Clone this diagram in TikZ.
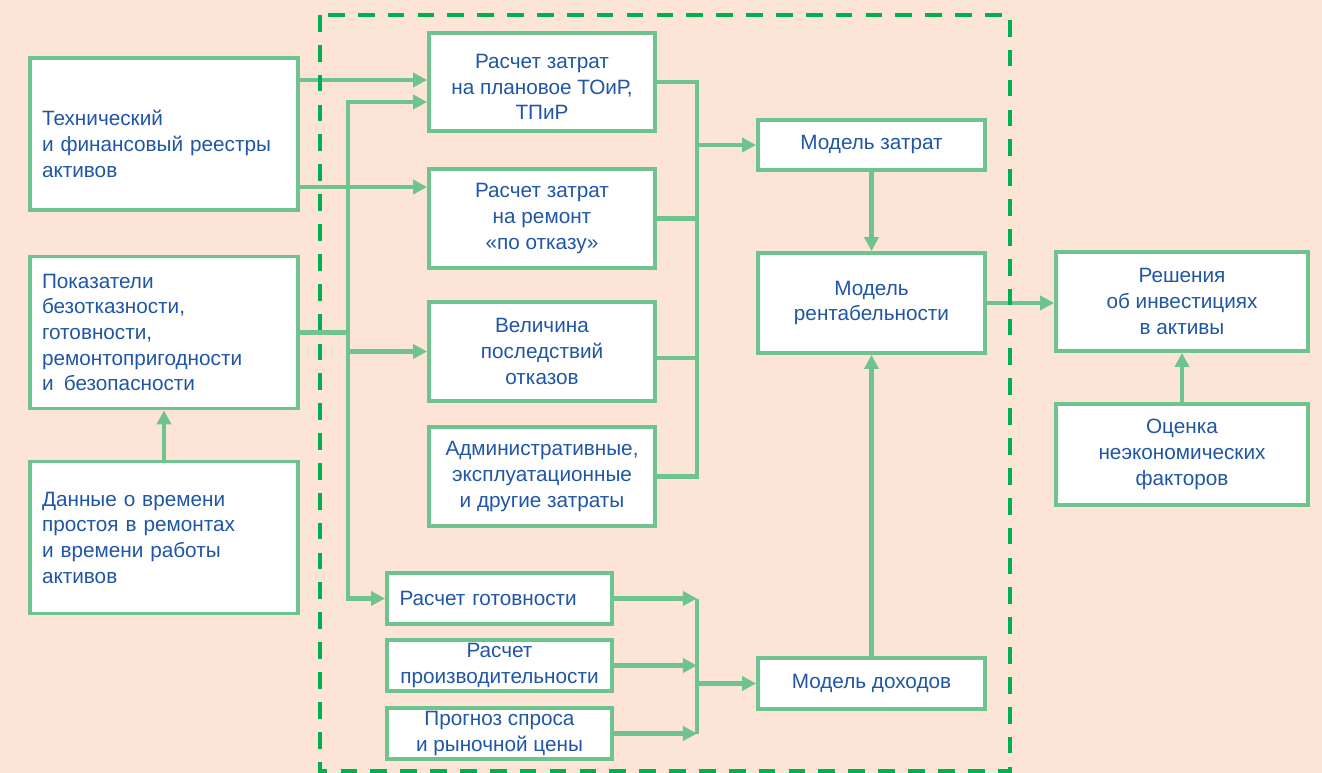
\documentclass[tikz,border=0pt]{standalone}
\usepackage{fontspec}
\setmainfont{Liberation Sans}
\usetikzlibrary{arrows.meta}
\definecolor{bgpeach}{RGB}{252,228,214}
\definecolor{boxgreen}{RGB}{110,195,142}
\definecolor{zonegreen}{RGB}{0,176,80}
\definecolor{txtblue}{RGB}{31,86,166}
\newcommand{\boxfont}{\fontsize{11.8}{14.6}\selectfont}

\begin{document}
\begin{tikzpicture}[
    x=0.02cm, y=-0.02cm,
    box/.style={draw=boxgreen, line width=2.2pt, fill=white, text=txtblue,
                font=\boxfont, align=center, minimum width=#1},
    link/.style={draw=boxgreen, line width=2.8pt},
    arr/.style={link, -{Triangle[length=8pt,width=8pt]}},
    zone/.style={draw=zonegreen, line width=2.3pt, dash pattern=on 9.5pt off 7.5pt},
]
\fill[bgpeach] (0,0) rectangle (1322,773);
\useasboundingbox (0,0) rectangle (1322,773);

% inputs
\node[box=5.36cm, minimum height=3.04cm, align=left, text width=4.88cm] (tech) at (164,134)
    {\rule{0pt}{20pt}Технический\\и финансовый реестры\\активов};
\node[box=5.36cm, minimum height=3.04cm, align=left, text width=4.88cm] (pokaz) at (164,332.5)
    {Показатели\\безотказности,\\готовности,\\ремонтопригодности\\и\, безопасности};
\node[box=5.36cm, minimum height=3.04cm, align=left, text width=4.88cm] (dannye) at (164,537.5)
    {Данные о времени\\простоя в ремонтах\\и времени работы\\активов};

% cost calculations
\node[box=4.52cm, minimum height=1.96cm] (r1) at (542,82) {\rule{0pt}{14pt}Расчет затрат\\на плановое ТОиР,\\ТПиР};
\node[box=4.52cm, minimum height=1.98cm] (r2) at (542,218.5) {Расчет затрат\\на ремонт\\«по отказу»};
\node[box=4.52cm, minimum height=1.98cm] (r3) at (542,351.5) {Величина\\последствий\\отказов};
\node[box=4.52cm, minimum height=1.98cm] (r4) at (542,476.5) {Административные,\\эксплуатационные\\и другие затраты};

% income calculations
\node[box=4.5cm, minimum height=1.02cm, inner ysep=1pt, align=left, text width=4cm] (g1) at (499.5,598.5) {Расчет готовности};
\node[box=4.5cm, minimum height=1.02cm, inner ysep=1pt] (g2) at (499.5,665.5) {Расчет\\производительности};
\node[box=4.5cm, minimum height=1.02cm, inner ysep=1pt] (g3) at (499.5,733.5) {Прогноз спроса\\и рыночной цены};

% models
\node[box=4.54cm, minimum height=1cm] (mz) at (871.5,145) {Модель затрат};
\node[box=4.54cm, minimum height=2cm] (mr) at (871.5,303) {Модель\\рентабельности};
\node[box=4.54cm, minimum height=1.02cm] (md) at (871.5,683.5) {Модель доходов};

% decisions
\node[box=5.04cm, minimum height=1.98cm] (rs) at (1182,301.5) {Решения\\об инвестициях\\в активы};
\node[box=5.04cm, minimum height=2.02cm] (oc) at (1182,454.5) {Оценка\\неэкономических\\факторов};

\coordinate (bus) at (348,0);
\coordinate (col) at (697,0);
\coordinate (r1in) at ([yshift=0.04cm]r1.west);
\coordinate (r1low) at ([yshift=-0.4cm]r1.west);
\coordinate (r2in) at ([yshift=0.63cm]r2.west);
\coordinate (r3out) at ([yshift=-0.13cm]r3.east);

% left bus
\draw[arr] (tech.east |- r1in) -- (r1in);
\draw[arr] (tech.east |- r2in) -- (r2in);
\draw[link] (pokaz.east) -- (pokaz.east -| bus);
\draw[arr] (g1.west -| bus) |- (r1low);
\draw[arr] (r1low -| bus) |- (g1.west);
\draw[arr] (r3.west -| bus) -- (r3.west);
\draw[arr] (dannye) -- (pokaz);

% cost collector
\draw[link] (r1.east) -| (col |- r4.east) -- (r4.east);
\draw[link] (r2.east) -- (r2.east -| col);
\draw[link] (r3out) -- (r3out -| col);
\draw[arr] (col |- mz.west) -- (mz.west);

% income collector
\foreach \g in {g1,g2,g3}
    \draw[arr] (\g.east) -- (\g.east -| col);
\draw[link] (col |- g1.east) -- (col |- g3.east);
\draw[arr] (col |- md.west) -- (md.west);

\draw[arr] (mz) -- (mr);
\draw[arr] (md) -- (mr);
\draw[arr] (mr.east) -- (mr.east -| rs.west);
\draw[arr] (oc) -- (rs);

\draw[zone] (320,15) rectangle (1010,771);
\end{tikzpicture}
\end{document}
